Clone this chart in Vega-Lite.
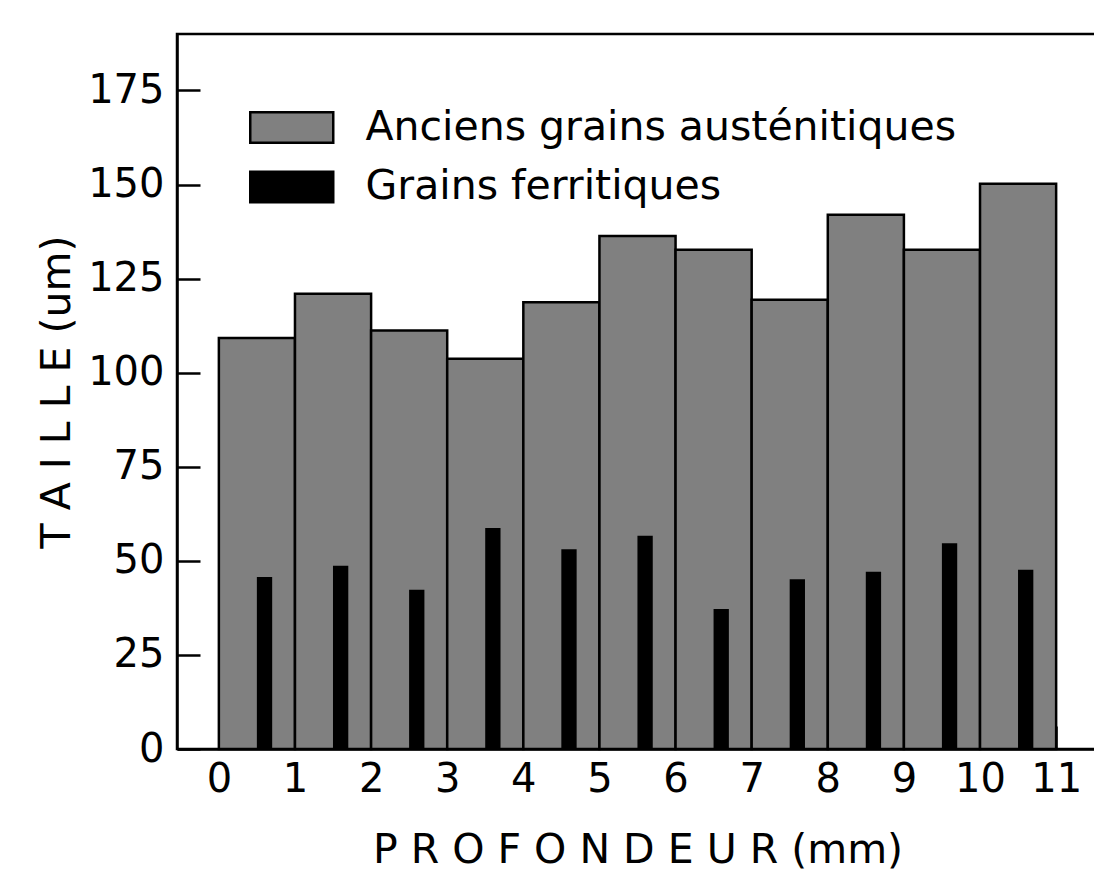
{
  "$schema": "https://vega.github.io/schema/vega-lite/v6.json",
  "width": 921,
  "height": 715,
  "autosize": {"type": "none"},
  "padding": {"left": 177, "top": 34, "right": 0, "bottom": 124},
  "background": "white",
  "config": {
    "font": "DejaVu Sans",
    "view": {"stroke": "black", "strokeWidth": 2.5}
  },
  "data": {
    "values": [
      {"de": 0, "a": 1, "aust": 109.2, "ferr": 45.7},
      {"de": 1, "a": 2, "aust": 121.0, "ferr": 48.7},
      {"de": 2, "a": 3, "aust": 111.2, "ferr": 42.3},
      {"de": 3, "a": 4, "aust": 103.7, "ferr": 58.7},
      {"de": 4, "a": 5, "aust": 118.7, "ferr": 53.1},
      {"de": 5, "a": 6, "aust": 136.3, "ferr": 56.7},
      {"de": 6, "a": 7, "aust": 132.7, "ferr": 37.2},
      {"de": 7, "a": 8, "aust": 119.4, "ferr": 45.1},
      {"de": 8, "a": 9, "aust": 142.0, "ferr": 47.1},
      {"de": 9, "a": 10, "aust": 132.7, "ferr": 54.7},
      {"de": 10, "a": 11, "aust": 150.2, "ferr": 47.6}
    ]
  },
  "layer": [
    {
      "mark": {"type": "rect", "stroke": "black", "strokeWidth": 2.5},
      "encoding": {
        "x": {
          "field": "de", "type": "quantitative",
          "scale": {"domain": [-0.55, 11.55], "nice": false, "zero": false},
          "axis": {
            "values": [0, 1, 2, 3, 4, 5, 6, 7, 8, 9, 10, 11],
            "format": "d",
            "grid": false,
            "tickSize": -23, "tickWidth": 2.5, "tickColor": "black",
            "domainColor": "black", "domainWidth": 2.5,
            "labelFontSize": 40, "labelColor": "black", "labelPadding": 65,
            "labelBaseline": "alphabetic", "labelFlush": false, "labelOverlap": false,
            "title": "P R O F O N D E U R (mm)",
            "titleFontSize": 41, "titleFontWeight": "normal", "titleColor": "black",
            "titleBaseline": "alphabetic", "titleY": 113
          }
        },
        "x2": {"field": "a"},
        "y": {
          "field": "aust", "type": "quantitative",
          "scale": {"domain": [0, 190], "nice": false},
          "title": "T A I L L E (um)",
          "axis": {
            "values": [0, 25, 50, 75, 100, 125, 150, 175],
            "grid": false,
            "tickSize": -23, "tickWidth": 2.5, "tickColor": "black",
            "domainColor": "black", "domainWidth": 2.5,
            "labelFontSize": 40, "labelColor": "black", "labelPadding": 36,
            "labelFlush": false, "labelOverlap": false,
            "titleFontSize": 41, "titleFontWeight": "normal", "titleColor": "black",
            "titleBaseline": "alphabetic", "titleAngle": -90, "titleAlign": "center",
            "titleX": -108, "titleY": 357.5
          }
        },
        "y2": {"datum": 0},
        "color": {
          "datum": "Anciens grains austénitiques",
          "scale": {"domain": ["Anciens grains austénitiques", "Grains ferritiques"], "range": ["#808080", "#000000"]},
          "legend": {
            "title": null,
            "orient": "none",
            "legendX": 92.75,
            "legendY": 71.5,
            "symbolType": "M-2,-0.74H2V0.74H-2Z",
            "symbolSize": 1722,
            "symbolStrokeColor": "black",
            "symbolStrokeWidth": 2.5,
            "symbolOpacity": 1,
            "labelFontSize": 41,
            "labelColor": "black",
            "labelOffset": 51.75,
            "labelLimit": 0,
            "rowPadding": 16.5,
            "padding": 0
          }
        }
      }
    },
    {
      "mark": {"type": "rect", "xOffset": 38, "x2Offset": -22.8},
      "encoding": {
        "x": {"field": "de", "type": "quantitative"},
        "x2": {"field": "a"},
        "y": {"field": "ferr", "type": "quantitative", "title": "T A I L L E (um)"},
        "y2": {"datum": 0},
        "color": {"datum": "Grains ferritiques"}
      }
    }
  ]
}
